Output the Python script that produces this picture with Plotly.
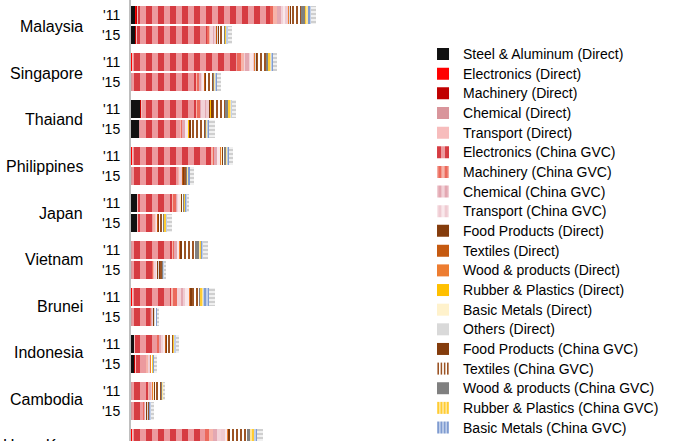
import plotly.graph_objects as go

# countries and years, top to bottom
countries = ["Malaysia", "Singapore", "Thaiand", "Philippines", "Japan",
             "Vietnam", "Brunei", "Indonesia", "Cambodia", "Hong Kong"]
years = ["'11", "'15"]

series = [
    "Steel & Aluminum (Direct)", "Electronics (Direct)", "Machinery (Direct)",
    "Chemical (Direct)", "Transport (Direct)", "Electronics (China GVC)",
    "Machinery (China GVC)", "Chemical (China GVC)", "Transport (China GVC)",
    "Food Products (Direct)", "Textiles (Direct)", "Wood & products (Direct)",
    "Rubber & Plastics (Direct)", "Basic Metals (Direct)", "Others (Direct)",
    "Food Products (China GVC)", "Textiles (China GVC)",
    "Wood & products (China GVC)", "Rubber & Plastics (China GVC)",
    "Basic Metals (China GVC)", "Others (China GVC)",
]

# one value per series, same order as above
malaysia_11 = [0.4, 0.1, 0.1, 0.05, 0.05, 13.2, 0.7, 0.6, 0.5, 0.05, 0.03, 0.03, 0.03, 0.03, 0.03, 0.1, 1.0, 0.35, 0.35, 0.3, 0.5]
malaysia_15 = [0.4, 0.05, 0.05, 0.03, 0.03, 7.0, 0.3, 0.4, 0.3, 0.03, 0.02, 0.02, 0.02, 0.02, 0.03, 0.05, 0.6, 0.1, 0.1, 0.15, 0.4]
singapore_11 = [0.05, 0.05, 0.05, 0.03, 0.03, 10.4, 0.7, 0.6, 0.4, 0.05, 0.03, 0.03, 0.03, 0.03, 0.05, 0.1, 0.9, 0.2, 0.3, 0.2, 0.4]
singapore_15 = [0.03, 0.03, 0.03, 0.02, 0.02, 6.4, 0.3, 0.3, 0.2, 0.05, 0.02, 0.02, 0.02, 0.02, 0.03, 0.05, 0.7, 0.1, 0.1, 0.2, 0.4]
thailand_11 = [0.9, 0.05, 0.05, 0.03, 0.03, 5.4, 0.4, 0.6, 0.4, 0.05, 0.03, 0.03, 0.03, 0.03, 0.03, 0.1, 1.2, 0.3, 0.4, 0.05, 0.4]
thailand_15 = [0.8, 0.05, 0.03, 0.02, 0.02, 4.0, 0.2, 0.3, 0.3, 0.03, 0.02, 0.02, 0.02, 0.02, 0.03, 0.1, 1.5, 0.1, 0.05, 0.15, 0.6]
philippines_11 = [0.05, 0.05, 0.05, 0.03, 0.03, 7.8, 0.3, 0.3, 0.3, 0.05, 0.03, 0.03, 0.03, 0.1, 0.03, 0.05, 0.15, 0.1, 0.2, 0.1, 0.4]
philippines_15 = [0.03, 0.03, 0.03, 0.02, 0.02, 4.6, 0.15, 0.15, 0.1, 0.05, 0.02, 0.02, 0.02, 0.02, 0.03, 0.05, 0.2, 0.05, 0.2, 0.15, 0.4]
japan_11 = [0.6, 0.03, 0.03, 0.02, 0.02, 3.4, 0.4, 0.2, 0.2, 0.03, 0.02, 0.02, 0.02, 0.02, 0.02, 0.05, 0.2, 0.05, 0.1, 0.2, 0.1]
japan_15 = [0.6, 0.03, 0.03, 0.02, 0.02, 1.5, 0.2, 0.15, 0.1, 0.03, 0.02, 0.02, 0.02, 0.02, 0.02, 0.05, 0.45, 0.1, 0.15, 0.1, 0.5]
vietnam_11 = [0.03, 0.03, 0.03, 0.02, 0.02, 4.0, 0.2, 0.3, 0.2, 0.03, 0.03, 0.02, 0.02, 0.02, 0.02, 0.1, 1.3, 0.4, 0.2, 0.2, 0.5]
vietnam_15 = [0.03, 0.03, 0.03, 0.02, 0.02, 2.0, 0.2, 0.2, 0.15, 0.02, 0.02, 0.02, 0.02, 0.02, 0.02, 0.05, 0.3, 0.05, 0.03, 0.03, 0.25]
brunei_11 = [0.05, 0.05, 0.05, 0.03, 0.03, 3.8, 0.6, 0.6, 0.6, 0.03, 0.03, 0.03, 0.03, 0.03, 0.03, 0.1, 0.8, 0.05, 0.25, 0.6, 0.6]
brunei_15 = [0.03, 0.03, 0.03, 0.02, 0.02, 1.8, 0.1, 0.15, 0.1, 0.02, 0.02, 0.02, 0.02, 0.02, 0.02, 0.03, 0.1, 0.03, 0.03, 0.03, 0.15]
indonesia_11 = [0.3, 0.03, 0.03, 0.02, 0.02, 2.2, 0.2, 0.4, 0.25, 0.03, 0.02, 0.02, 0.02, 0.03, 0.02, 0.05, 0.6, 0.05, 0.1, 0.15, 0.3]
indonesia_15 = [0.35, 0.03, 0.03, 0.02, 0.02, 1.1, 0.15, 0.15, 0.1, 0.02, 0.02, 0.02, 0.02, 0.02, 0.02, 0.02, 0.05, 0.03, 0.03, 0.1, 0.25]
cambodia_11 = [0.03, 0.03, 0.03, 0.02, 0.02, 1.6, 0.1, 0.2, 0.1, 0.03, 0.02, 0.02, 0.02, 0.1, 0.02, 0.05, 0.7, 0.1, 0.05, 0.03, 0.15]
cambodia_15 = [0.03, 0.03, 0.03, 0.02, 0.02, 1.1, 0.1, 0.15, 0.1, 0.02, 0.02, 0.02, 0.02, 0.02, 0.02, 0.03, 0.1, 0.03, 0.03, 0.15, 0.3]
hongkong_11 = [0.05, 0.05, 0.05, 0.03, 0.03, 7.2, 0.8, 0.8, 0.6, 0.03, 0.03, 0.03, 0.03, 0.03, 0.03, 0.1, 1.7, 0.3, 0.4, 0.3, 0.6]

bars = [
    (0, 0, malaysia_11), (0, 1, malaysia_15),
    (1, 0, singapore_11), (1, 1, singapore_15),
    (2, 0, thailand_11), (2, 1, thailand_15),
    (3, 0, philippines_11), (3, 1, philippines_15),
    (4, 0, japan_11), (4, 1, japan_15),
    (5, 0, vietnam_11), (5, 1, vietnam_15),
    (6, 0, brunei_11), (6, 1, brunei_15),
    (7, 0, indonesia_11), (7, 1, indonesia_15),
    (8, 0, cambodia_11), (8, 1, cambodia_15),
    (9, 0, hongkong_11),
]

# colour, stripe colour (None = solid), stripe shape
styles = [
    ("#111111", None, ""), ("#ff0000", None, ""), ("#c00000", None, ""),
    ("#d9959b", None, ""), ("#f7bcbc", None, ""),
    ("#d63c42", "#ec9a9e", "|"), ("#ec6a5c", "#f6b4aa", "|"),
    ("#e3a8b2", "#f2d2d8", "|"), ("#efcbd2", "#f9e8eb", "|"),
    ("#843c0c", None, ""), ("#c55a11", None, ""), ("#ed7d31", None, ""),
    ("#ffc000", None, ""), ("#fff2cc", None, ""), ("#d9d9d9", None, ""),
    ("#843c0c", None, ""), ("#9c5424", "#ffffff", "|"), ("#808080", None, ""),
    ("#ffcc33", "#ffe699", "|"), ("#7f9bd0", "#c0cfea", "|"),
    ("#cfcfcf", "#f0f0f0", "-"),
]

GROUP = 2.35  # spacing between countries, in y units
Y0, Y1 = -0.75, 21.3
ypos = [c * GROUP + yr for c, yr, _ in bars]

fig = go.Figure()
for k, name in enumerate(series):
    col, bg, shape = styles[k]
    marker = dict(color=col, line=dict(width=0))
    if bg:
        marker["pattern"] = dict(shape=shape, fgcolor=col, bgcolor=bg,
                                 size=(12 if k == 5 else 8) if k < 9 else 4,
                                 solidity=0.5, fillmode="replace")
    fig.add_trace(go.Bar(
        x=[b[2][k] for b in bars], y=ypos, orientation="h",
        # larger text than the legend font keeps the rows tight
        name=f"<span style='font-size:14px'>{name}</span>",
        hovertemplate=name + ": %{x}<extra></extra>",
        width=0.88, marker=marker, showlegend=(k < 20),
        legend="legend" if k < 10 else "legend2",
    ))

# country names sit between their two bars (paper coords so the last one,
# half off the page, is still drawn)
for i, c in enumerate(countries):
    yc = 0.6 + i * 2.325
    fig.add_annotation(x=-46 / 310, xref="paper",
                       y=1 - (yc - Y0) / (Y1 - Y0), yref="paper",
                       text=c, showarrow=False, xanchor="right",
                       yanchor="middle", font=dict(size=16, color="black"))

leg = dict(x=0.942, xanchor="left", yanchor="top", traceorder="normal",
           font=dict(size=12.8), bgcolor="rgba(0,0,0,0)")

fig.update_layout(
    width=700, height=441,
    margin=dict(l=131, r=259, t=0, b=0, autoexpand=False),
    barmode="stack",
    paper_bgcolor="white", plot_bgcolor="white",
    font=dict(family="Arial, Liberation Sans, sans-serif", color="black"),
    xaxis=dict(range=[0, 31], visible=False),
    yaxis=dict(range=[Y1, Y0], tickvals=ypos,
               ticktext=[years[b[1]] for b in bars],
               tickfont=dict(size=14), ticks="", ticklabelstandoff=6,
               showgrid=False, zeroline=False,
               showline=True, linecolor="#bfbfbf", linewidth=2),
    legend=dict(leg, y=0.911),
    legend2=dict(leg, y=0.465),
)

fig.write_html("out.html", config={"displayModeBar": False},
               post_script="document.body.style.margin='0';")
